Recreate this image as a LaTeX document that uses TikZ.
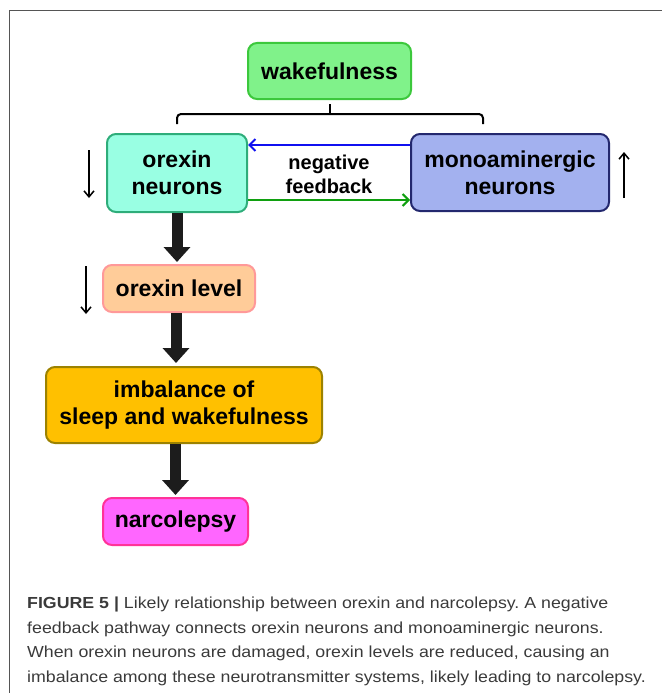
\documentclass[tikz,border=0pt]{standalone}
\usepackage{fontspec}
\usepackage{graphicx}
\setmainfont{Liberation Sans}
\frenchspacing
\usetikzlibrary{arrows.meta,calc}
\definecolor{wkfill}{HTML}{80F28A}
\definecolor{wkdraw}{HTML}{3CC83C}
\definecolor{onfill}{HTML}{99FFE3}
\definecolor{ondraw}{HTML}{2EAD7A}
\definecolor{mnfill}{HTML}{A3B1EF}
\definecolor{mndraw}{HTML}{23286E}
\definecolor{olfill}{HTML}{FFCC99}
\definecolor{oldraw}{HTML}{FF9999}
\definecolor{ibfill}{HTML}{FFC000}
\definecolor{ibdraw}{HTML}{9C8200}
\definecolor{ncfill}{HTML}{FF66FF}
\definecolor{ncdraw}{HTML}{FF3399}
\definecolor{thick}{HTML}{1C1C1C}
\definecolor{capgray}{HTML}{3A3A3A}
\definecolor{framegray}{HTML}{555555}
\definecolor{fbblue}{HTML}{1010F0}
\definecolor{fbgreen}{HTML}{10A010}
\newcommand{\capstretch}[1]{\scalebox{1.11}[1]{#1}}
\tikzset{
  box/.style={draw, line width=2pt, rounded corners=9pt, inner sep=0pt, align=center,
    font=\fontsize{23}{27}\selectfont\bfseries, text=black},
  bigarrow/.style={draw=thick, line width=11pt, -{Triangle[length=15pt,width=26pt]}},
  fbarrow/.style={line width=2pt, -{Straight Barb[length=6pt,width=12pt,line width=2pt]}},
  sidearrow/.style={line width=1.5pt, -{Straight Barb[length=6pt,width=10pt,line width=1.5pt]}},
  capline/.style={anchor=base west, inner sep=0pt, font=\fontsize{16}{20}\selectfont, text=capgray},
}
\begin{document}
\begin{tikzpicture}[x=1pt,y=-1pt]
\useasboundingbox (0,0) rectangle (662,693);
% frame
\draw[framegray, line width=1pt] (9,693) -- (9,11) -- (662,11);
% boxes
\node[box, fill=wkfill, draw=wkdraw, minimum width=163pt, minimum height=56pt] (wk) at (329.5,71) {wakefulness};
\node[box, fill=onfill, draw=ondraw, minimum width=140pt, minimum height=78pt] (on) at (177,173) {orexin\\neurons};
\node[box, fill=mnfill, draw=mndraw, minimum width=198pt, minimum height=77pt] (mn) at (510,172.5) {monoaminergic\\neurons};
\node[box, fill=olfill, draw=oldraw, minimum width=152pt, minimum height=47pt] (ol) at (179,288.5) {orexin level};
\node[box, fill=ibfill, draw=ibdraw, minimum width=276pt, minimum height=76pt] (ib) at (184,405) {imbalance of\\sleep and wakefulness};
\node[box, fill=ncfill, draw=ncdraw, minimum width=145pt, minimum height=47pt] (nc) at (175.5,521.5) {narcolepsy};
% feedback label
\node[align=center, inner sep=0pt, font=\fontsize{20}{24}\selectfont\bfseries] (fb) at (329,174) {negative\\feedback};
% bracket
\coordinate (tick) at ($(wk.south)+(0,-4pt)$);
\coordinate (bl) at (177,124);
\coordinate (br) at (483,124);
\draw[line width=2pt] (tick) -- (tick |- 0,114);
\draw[line width=2pt, rounded corners=4pt] (bl) -- (bl |- 0,114) -- (br |- 0,114) -- (br);
% feedback arrows
\draw[fbarrow, fbblue] ([yshift=27.5pt]mn.west) -- ([yshift=27.5pt]mn.west -| on.east);
\draw[fbarrow, fbgreen] ([yshift=-27pt]on.east) -- ([yshift=-27pt]on.east -| mn.west);
% side arrows
\draw[sidearrow] (89,150) -- (89,198);
\draw[sidearrow] (86,266) -- (86,314);
\draw[sidearrow] (624,198) -- (624,152);
% thick arrows
\draw[bigarrow] (on.south) -- ([yshift=2pt]on.south |- ol.north);
\draw[bigarrow] ([xshift=-3pt]ol.south) -- ([xshift=-3pt,yshift=3pt]ol.south |- ib.north);
\draw[bigarrow] (nc.north |- ib.south) -- ([yshift=2pt]nc.north);
% caption
\node[capline] (c1) at (27,608) {\capstretch{\textbf{FIGURE 5 |} Likely relationship between orexin and narcolepsy. A negative}};
\node[capline] (c2) at (27,633) {\capstretch{feedback pathway connects orexin neurons and monoaminergic neurons.}};
\node[capline] (c3) at (27,657) {\capstretch{When orexin neurons are damaged, orexin levels are reduced, causing an}};
\node[capline] (c4) at (27,682) {\capstretch{imbalance among these neurotransmitter systems, likely leading to narcolepsy.}};
\end{tikzpicture}
\end{document}
